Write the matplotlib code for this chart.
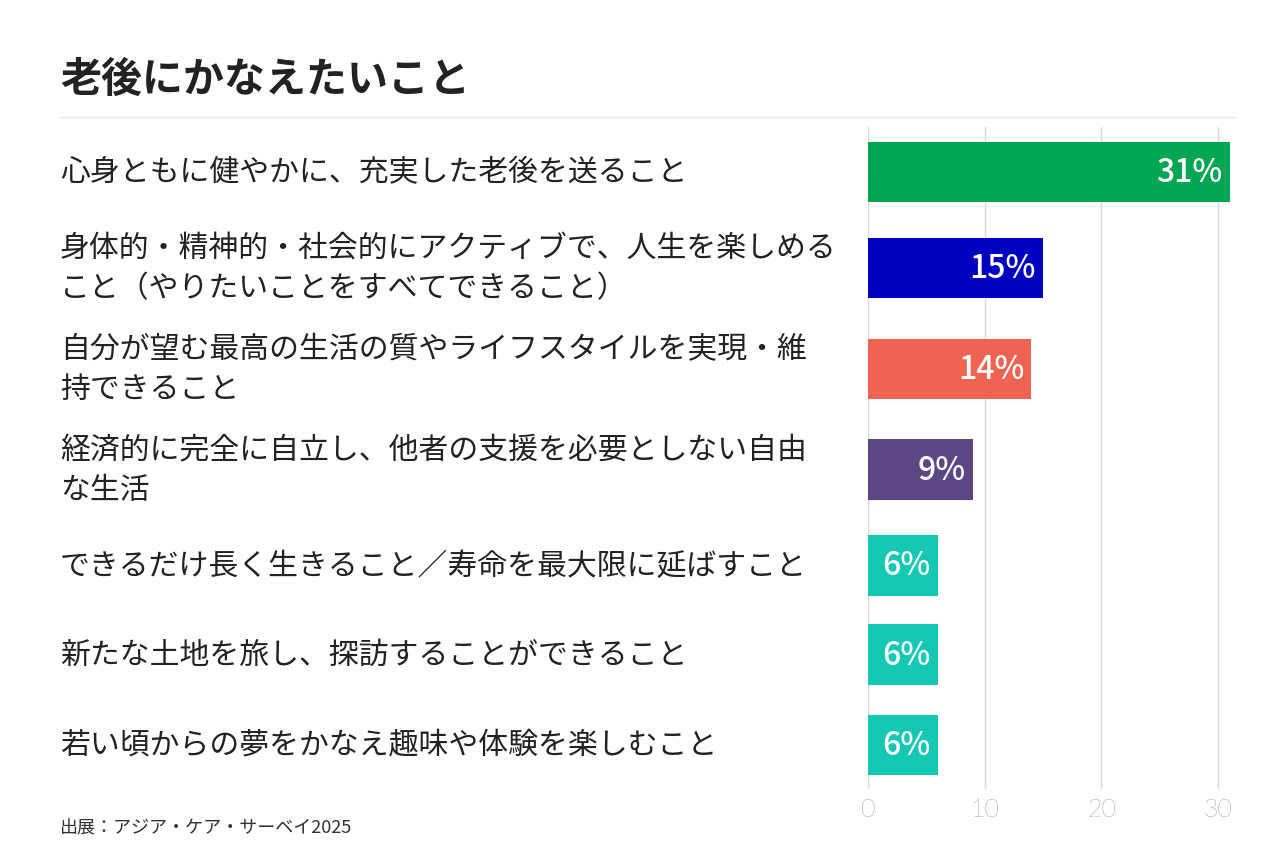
import matplotlib
matplotlib.use("Agg")
import matplotlib.pyplot as plt
from matplotlib.transforms import blended_transform_factory

plt.rcParams["font.family"] = "Noto Sans CJK JP"

title = "老後にかなえたいこと"
categories = [
    "心身ともに健やかに、充実した老後を送ること",
    "身体的・精神的・社会的にアクティブで、人生を楽しめる\nこと（やりたいことをすべてできること）",
    "自分が望む最高の生活の質やライフスタイルを実現・維\n持できること",
    "経済的に完全に自立し、他者の支援を必要としない自由\nな生活",
    "できるだけ長く生きること／寿命を最大限に延ばすこと",
    "新たな土地を旅し、探訪することができること",
    "若い頃からの夢をかなえ趣味や体験を楽しむこと",
]
values = [31, 15, 14, 9, 6, 6, 6]
colors = ["#00A651", "#0000C0", "#EE6352", "#5C4785", "#14C8B4", "#14C8B4", "#14C8B4"]
xticks = [0, 10, 20, 30]
source = "出展：アジア・ケア・サーベイ2025"

# row slot positions (layout: rows with two-line labels are slightly taller)
ypos = [0, 1.0, 2.05, 3.1, 4.1, 5.03, 5.97]

fig = plt.figure(figsize=(12.8, 8.53), dpi=100)
ax = fig.add_axes([868/1280, 1-790/853, 364/1280, (790-128)/853])
ax.barh(ypos, values, height=0.63, color=colors, zorder=3)
ax.set_ylim(6.43, -0.47)
ax.set_xlim(0, 31.2)
ax.set_xticks(xticks)
ax.set_xticklabels([str(t) for t in xticks], fontsize=18, color="#555555",
                   fontfamily="Lato", fontweight="light")
ax.set_yticks([])
ax.grid(axis="x", color="#d9d9d9", lw=1, zorder=0)
for s in ["top", "right", "left", "bottom"]:
    ax.spines[s].set_visible(False)
ax.tick_params(axis="x", length=0, pad=6)
for y, v in zip(ypos, values):
    ax.text(v - 0.6, y, f"{v}%", ha="right", va="center", color="white",
            fontsize=23, fontweight="medium", zorder=4)

tr = blended_transform_factory(fig.transFigure, ax.transData)
for y, c in zip(ypos, categories):
    ax.text(60/1280, y, c, transform=tr, ha="left", va="center", fontsize=21.5,
            color="#222222", linespacing=1.35)

fig.text(60/1280, 1-80/853, title, fontsize=29.5, fontweight="bold", color="#222222", va="center")
fig.add_artist(plt.Line2D([60/1280, 1235/1280], [1-118/853]*2, color="#e6e6e6", lw=1))
fig.text(60/1280, 1-828/853, source, fontsize=13, color="#333333", va="center")
fig.savefig("out.png", dpi=100)
